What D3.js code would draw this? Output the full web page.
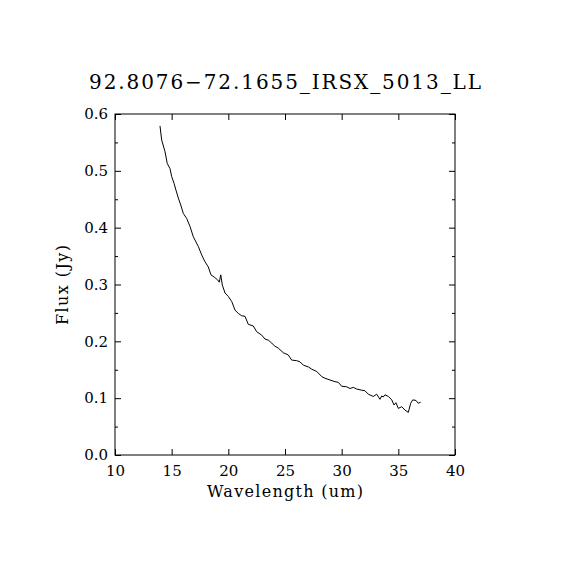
<!DOCTYPE html>
<html><head><meta charset="utf-8">
<script src="https://cdn.jsdelivr.net/npm/d3@7"></script>
<style>body{margin:0;background:#fff}svg{display:block}text{font-family:"DejaVu Serif",serif;fill:#000}</style>
</head><body>
<script>
const title = "92.8076\u221272.1655_IRSX_5013_LL";
const xLabel = "Wavelength (um)";
const yLabel = "Flux (Jy)";
const xTicks = [10,15,20,25,30,35,40];
const yTicks = [0.0,0.1,0.2,0.3,0.4,0.5,0.6];
const wavelength = [13.97,14.12,14.41,14.61,14.85,15.00,15.21,15.38,15.59,15.80,16.03,16.33,16.62,16.91,17.35,17.65,17.94,18.23,18.47,18.76,19.06,19.20,19.33,19.47,19.71,20.00,20.30,20.59,20.88,21.18,21.47,21.76,22.20,22.50,22.94,23.24,23.53,23.83,24.06,24.41,24.85,25.29,25.59,26.03,26.32,26.62,27.06,27.36,27.80,28.24,28.53,28.97,29.41,29.70,30.00,30.44,30.74,31.03,31.33,31.77,32.06,32.35,32.79,33.09,33.38,33.53,33.67,33.82,34.12,34.42,34.62,34.79,35.00,35.30,35.59,35.88,36.09,36.27,36.56,36.76,36.97];
const flux = [0.579,0.554,0.534,0.513,0.504,0.490,0.478,0.466,0.452,0.440,0.425,0.416,0.402,0.384,0.367,0.352,0.340,0.331,0.317,0.313,0.308,0.304,0.317,0.299,0.285,0.279,0.270,0.255,0.249,0.245,0.244,0.230,0.227,0.217,0.211,0.204,0.202,0.197,0.192,0.188,0.180,0.176,0.167,0.166,0.164,0.158,0.155,0.151,0.147,0.138,0.135,0.132,0.129,0.128,0.121,0.120,0.117,0.119,0.116,0.114,0.113,0.107,0.103,0.107,0.098,0.104,0.102,0.106,0.103,0.097,0.088,0.092,0.082,0.085,0.079,0.075,0.091,0.097,0.096,0.091,0.093];

const W=570,H=570, L=115,R=455,T=114,B=455;
const svg=d3.select("body").append("svg").attr("width",W).attr("height",H);
const x=d3.scaleLinear().domain([10,40]).range([L,R]);
const y=d3.scaleLinear().domain([0,0.6]).range([B,T]);
const yMinor=d3.range(0,0.6001,0.05);

const fmtY=d3.format(".1f");
svg.append("g").attr("transform",`translate(0,${B})`)
  .call(d3.axisBottom(x).tickValues(xTicks).tickSizeInner(-6).tickSizeOuter(0).tickFormat(d3.format("d")).tickPadding(10))
  .call(g=>{g.select(".domain").remove();g.selectAll("text").attr("font-size",15).attr("font-family","DejaVu Serif");});
svg.append("g").attr("transform",`translate(0,${T})`)
  .call(d3.axisTop(x).tickValues(xTicks).tickSizeInner(-6).tickSizeOuter(0).tickFormat(""))
  .call(g=>g.select(".domain").remove());
svg.append("g").attr("transform",`translate(${L},0)`)
  .call(d3.axisLeft(y).tickValues(yMinor).tickSizeInner(0).tickSizeOuter(0).tickFormat(""))
  .call(g=>{g.select(".domain").remove();g.selectAll(".tick line").attr("x2",d=>Math.abs(d*10-Math.round(d*10))<1e-6?6:3);});
svg.append("g").attr("transform",`translate(${L},0)`)
  .call(d3.axisLeft(y).tickValues(yTicks).tickSize(0).tickFormat(fmtY).tickPadding(7))
  .call(g=>{g.select(".domain").remove();g.selectAll("text").attr("font-size",15).attr("font-family","DejaVu Serif");});
svg.append("g").attr("transform",`translate(${R},0)`)
  .call(d3.axisRight(y).tickValues(yMinor).tickSizeInner(0).tickSizeOuter(0).tickFormat(""))
  .call(g=>{g.select(".domain").remove();g.selectAll(".tick line").attr("x2",d=>Math.abs(d*10-Math.round(d*10))<1e-6?-6:-3);});
svg.selectAll(".tick line").attr("stroke","#000");

svg.append("rect").attr("x",L).attr("y",T).attr("width",R-L).attr("height",B-T)
  .attr("fill","none").attr("stroke","#000").attr("stroke-width",1);

const data=wavelength.map((w,i)=>[w,flux[i]]);
svg.append("path").datum(data).attr("fill","none").attr("stroke","#000").attr("stroke-width",1)
  .attr("d",d3.line().x(d=>x(d[0])).y(d=>y(d[1])));

svg.append("text").attr("x",285).attr("y",89).attr("text-anchor","middle").attr("font-size",20)
  .attr("textLength",392).attr("lengthAdjust","spacing").text(title);
svg.append("text").attr("x",285).attr("y",497).attr("text-anchor","middle").attr("font-size",16)
  .attr("textLength",156).attr("lengthAdjust","spacing").text(xLabel);
svg.append("text").attr("transform","translate(68,285) rotate(-90)").attr("text-anchor","middle").attr("font-size",16)
  .attr("textLength",80).attr("lengthAdjust","spacing").text(yLabel);
</script>
</body></html>
